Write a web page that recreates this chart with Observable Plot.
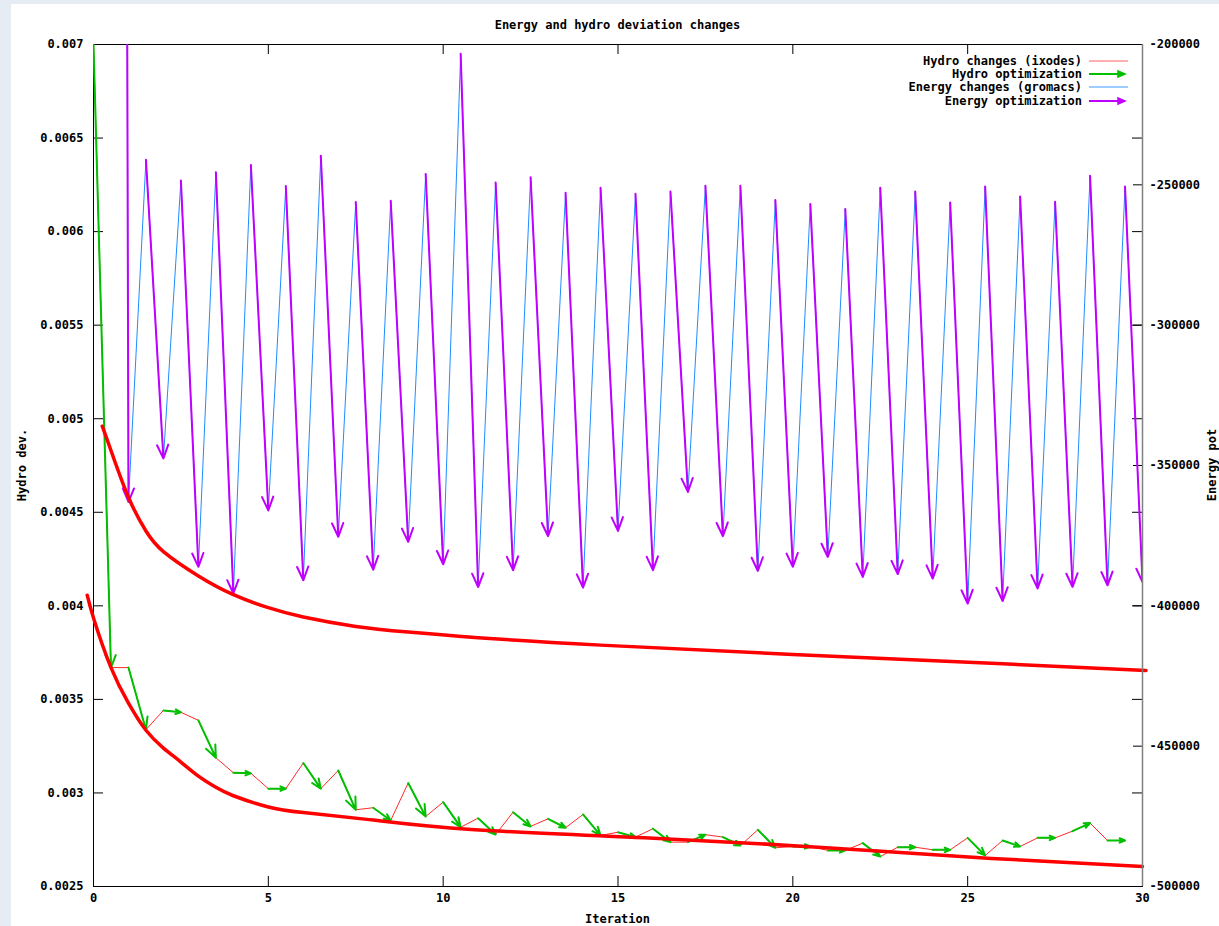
<!DOCTYPE html>
<html>
<head>
<meta charset="utf-8">
<script src="https://cdn.jsdelivr.net/npm/d3@7"></script>
<script src="https://cdn.jsdelivr.net/npm/@observablehq/plot@0.6"></script>
<style>
  html, body { margin: 0; padding: 0; background: #e5ecf4; width: 1219px; height: 926px; overflow: hidden; }
  #panel { position: absolute; left: 11px; top: 4px; width: 1208px; height: 922px; background: #ffffff;
           font-family: "DejaVu Sans Mono", monospace; font-weight: bold; font-size: 12px; color: #000; }
  .layer { position: absolute; left: 0; top: 0; }
  .txt { position: absolute; line-height: 14px; white-space: pre; }
  .rot { position: absolute; white-space: pre; line-height: 14px; transform: translate(-50%, -50%) rotate(-90deg); }
  .legrow { position: absolute; right: 137px; line-height: 14px; white-space: pre; text-align: right; }
  .legsample { position: absolute; left: 1078px; }
</style>
</head>
<body>
<div id="panel">
  <div class="txt" style="left:82px;width:1049px;top:14px;text-align:center;">Energy and hydro deviation changes</div>
  <div class="txt" style="left:82px;width:1049px;top:908px;text-align:center;">Iteration</div>
  <div class="rot" style="left:11px;top:461px;">Hydro dev.</div>
  <div class="rot" style="left:1201px;top:461px;">Energy pot</div>
  <div id="layers"></div>
  <div id="legend"></div>
</div>
<script>
// ---------------- data ----------------
const xTicks = [0, 5, 10, 15, 20, 25, 30];
const xTickLabels = ["0", "5", "10", "15", "20", "25", "30"];

const hydroTicks = [0.007, 0.0065, 0.006, 0.0055, 0.005, 0.0045, 0.004, 0.0035, 0.003, 0.0025];
const hydroTickLabels = ["0.007", "0.0065", "0.006", "0.0055", "0.005", "0.0045", "0.004", "0.0035", "0.003", "0.0025"];

const energyTicks = [-200000, -250000, -300000, -350000, -400000, -450000, -500000];
const energyTickLabels = ["-200000", "-250000", "-300000", "-350000", "-400000", "-450000", "-500000"];

// Hydro deviation, sampled every half iteration (hydro optimization: i -> i+0.5)
const hydroSteps = [0, 0.5, 1, 1.5, 2, 2.5, 3, 3.5, 4, 4.5, 5, 5.5, 6, 6.5, 7, 7.5, 8, 8.5, 9, 9.5,
  10, 10.5, 11, 11.5, 12, 12.5, 13, 13.5, 14, 14.5, 15, 15.5, 16, 16.5, 17, 17.5, 18, 18.5, 19, 19.5,
  20, 20.5, 21, 21.5, 22, 22.5, 23, 23.5, 24, 24.5, 25, 25.5, 26, 26.5, 27, 27.5, 28, 28.5, 29, 29.5];
const hydroDev = [0.00700, 0.00367, 0.00367, 0.003338, 0.003441, 0.003431, 0.003388, 0.003188, 0.003108, 0.003105,
  0.003023, 0.003023, 0.003160, 0.003023, 0.003120, 0.002910, 0.002921, 0.002853, 0.003053, 0.002874,
  0.002951, 0.002817, 0.002865, 0.002778, 0.002897, 0.002821, 0.002862, 0.002814, 0.002885, 0.002773,
  0.002790, 0.002764, 0.002809, 0.002737, 0.002737, 0.002777, 0.002764, 0.002719, 0.002803, 0.002707,
  0.002714, 0.002714, 0.002693, 0.002693, 0.002732, 0.002660, 0.002710, 0.002710, 0.002696, 0.002696,
  0.002760, 0.002666, 0.002746, 0.002714, 0.002760, 0.002760, 0.002796, 0.002839, 0.002746, 0.002746];

// Potential energy, sampled every half iteration (energy optimization: i+0.5 -> i+1)
const energySteps = [0.5, 1, 1.5, 2, 2.5, 3, 3.5, 4, 4.5, 5, 5.5, 6, 6.5, 7, 7.5, 8, 8.5, 9, 9.5, 10,
  10.5, 11, 11.5, 12, 12.5, 13, 13.5, 14, 14.5, 15, 15.5, 16, 16.5, 17, 17.5, 18, 18.5, 19, 19.5, 20,
  20.5, 21, 21.5, 22, 22.5, 23, 23.5, 24, 24.5, 25, 25.5, 26, 26.5, 27, 27.5, 28, 28.5, 29, 29.5, 30];
const energyPot = [2000000, -363000, -241100, -347500, -248500, -386100, -245500, -395600, -242900, -366000,
  -250400, -390900, -239600, -375400, -256100, -387100, -255700, -377200, -246100, -385200,
  -203300, -393300, -249200, -387300, -247300, -375200, -252800, -393500, -251000, -373300,
  -253200, -387300, -252400, -359400, -250300, -375200, -250300, -387600, -255400, -386100,
  -256800, -382600, -258600, -389700, -251000, -388700, -252400, -390300, -256300, -399200,
  -250600, -398300, -254200, -393800, -256000, -393300, -246800, -392700, -250600, -391500];

// Thick red trend curves (hydro units)
const upperTrendX = [0.25, 0.5, 1.0, 1.5, 2.0, 3.0, 4.0, 5.0, 6.0, 7.5, 9.0, 11.0, 14.5, 20.0, 26.0, 30.1];
const upperTrendY = [0.00496, 0.00483, 0.00458, 0.00440, 0.00429, 0.00416, 0.00406, 0.00399, 0.00394, 0.00389, 0.00386, 0.00383, 0.00379, 0.00374, 0.00369, 0.003655];
const lowerTrendX = [-0.18, 0.02, 0.5, 1.0, 1.5, 2.0, 2.5, 3.0, 3.5, 4.0, 5.0, 6.0, 8.0, 10.8, 15.75, 20.72, 25.68, 30.0];
const lowerTrendY = [0.004057, 0.003923, 0.003670, 0.003480, 0.003335, 0.003240, 0.003165, 0.003090, 0.003030, 0.002985, 0.002925, 0.002895, 0.002855, 0.002805, 0.002760, 0.002710, 0.002650, 0.002607];

// ---------------- styling ----------------
const RED = "#ff0000", GREEN = "#00c000", BLUE = "#1e8cff", PURPLE = "#c000ff";
const W = 1208, H = 922, mL = 82, mR = 77, mT = 40, mB = 40;
const plotW = W - mL - mR, plotH = H - mT - mB;
const common = {
  width: W, height: H, marginLeft: mL, marginRight: mR, marginTop: mT, marginBottom: mB,
  style: { background: "transparent", fontFamily: "DejaVu Sans Mono, monospace", fontSize: "12px", fontWeight: "bold", color: "#000", overflow: "visible" }
};

const hydroRows = hydroSteps.map((t, i) => ({ t, v: hydroDev[i] }));
const hydroArrows = [];
for (let i = 0; i + 1 < hydroSteps.length; i += 2)
  hydroArrows.push({ x1: hydroSteps[i], y1: hydroDev[i], x2: hydroSteps[i + 1], y2: hydroDev[i + 1] });

const energyRows = energySteps.map((t, i) => ({ t, e: energyPot[i] }));
const energyArrows = [];
for (let i = 0; i + 1 < energySteps.length; i += 2)
  energyArrows.push({ x1: energySteps[i], y1: energyPot[i], x2: energySteps[i + 1], y2: energyPot[i + 1] });

const upperRows = upperTrendX.map((t, i) => ({ t, v: upperTrendY[i] }));
const lowerRows = lowerTrendX.map((t, i) => ({ t, v: lowerTrendY[i] }));

// Layer 1: hydro (left axis, x axis, frame)
const layer1 = Plot.plot({
  ...common,
  x: { domain: [0, 30], label: null },
  y: { domain: [0.0025, 0.007], label: null },
  marks: [
    Plot.frame({ stroke: "#000" }),
    Plot.axisY({ anchor: "left", ticks: hydroTicks, tickSize: 0, tickPadding: 10, label: null,
      tickFormat: d => hydroTickLabels[hydroTicks.indexOf(d)] }),
    Plot.axisX({ anchor: "bottom", ticks: xTicks, tickSize: 0, tickPadding: 7, label: null,
      tickFormat: d => xTickLabels[xTicks.indexOf(d)] }),
    Plot.tickY(hydroTicks, { y: d => d, insetRight: plotW - 10, stroke: "#000" }),
    Plot.tickY(hydroTicks, { y: d => d, insetLeft: plotW - 10, stroke: "#000" }),
    Plot.tickX(xTicks, { x: d => d, insetTop: plotH - 10, stroke: "#000" }),
    Plot.tickX(xTicks, { x: d => d, insetBottom: plotH - 10, stroke: "#000" }),
    Plot.line(hydroRows, { x: "t", y: "v", stroke: "#ff2a2a", strokeWidth: 1, clip: true }),
    Plot.arrow(hydroArrows, { x1: "x1", y1: "y1", x2: "x2", y2: "y2", stroke: GREEN, strokeWidth: 2,
      headLength: 10, headAngle: 45, clip: true })
  ]
});

// Layer 2: energy (right axis)
const layer2 = Plot.plot({
  ...common,
  x: { domain: [0, 30], axis: null },
  y: { domain: [-500000, -200000], label: null },
  marks: [
    Plot.axisY({ anchor: "right", ticks: energyTicks, tickSize: 0, tickPadding: 7, label: null,
      tickFormat: d => energyTickLabels[energyTicks.indexOf(d)] }),
    Plot.tickY(energyTicks, { y: d => d, insetLeft: plotW - 9, stroke: "#000" }),
    Plot.line(energyRows, { x: "t", y: "e", stroke: BLUE, strokeWidth: 1, clip: true }),
    Plot.arrow(energyArrows, { x1: "x1", y1: "y1", x2: "x2", y2: "y2", stroke: PURPLE, strokeWidth: 2,
      headLength: 11, headAngle: 45, clip: true })
  ]
});

// Layer 3: trend curves + right border
const layer3 = Plot.plot({
  ...common,
  x: { domain: [0, 30], axis: null },
  y: { domain: [0.0025, 0.007], axis: null },
  marks: [
    Plot.line(upperRows, { x: "t", y: "v", stroke: RED, strokeWidth: 3.5, curve: "natural" }),
    Plot.line(lowerRows, { x: "t", y: "v", stroke: RED, strokeWidth: 3.5, curve: "natural" }),
    Plot.ruleX([30], { stroke: "#808080", strokeWidth: 1.5 })
  ]
});

const layers = document.getElementById("layers");
for (const l of [layer1, layer2, layer3]) { l.classList.add("layer"); layers.appendChild(l); }

// Legend
const legendItems = [
  { label: "Hydro changes (ixodes)", color: "#ff6060", width: 1, arrow: false, cy: 56.7 },
  { label: "Hydro optimization", color: GREEN, width: 2, arrow: true, cy: 70 },
  { label: "Energy changes (gromacs)", color: "#3a9cff", width: 1, arrow: false, cy: 83.3 },
  { label: "Energy optimization", color: PURPLE, width: 2, arrow: true, cy: 96.7 }
];
const legend = document.getElementById("legend");
for (const it of legendItems) {
  const row = document.createElement("div");
  row.className = "legrow";
  row.style.top = (it.cy - 7) + "px";
  row.textContent = it.label;
  legend.appendChild(row);
  const ns = "http://www.w3.org/2000/svg";
  const s = document.createElementNS(ns, "svg");
  s.setAttribute("class", "legsample");
  s.setAttribute("width", 42); s.setAttribute("height", 10);
  s.style.top = (it.cy - 5) + "px";
  const ln = document.createElementNS(ns, "line");
  ln.setAttribute("x1", 0); ln.setAttribute("x2", it.arrow ? 36 : 39);
  ln.setAttribute("y1", 5); ln.setAttribute("y2", 5);
  ln.setAttribute("stroke", it.color); ln.setAttribute("stroke-width", it.width);
  s.appendChild(ln);
  if (it.arrow) {
    const p = document.createElementNS(ns, "path");
    p.setAttribute("d", "M29,2 L36,5 L29,8 Z");
    p.setAttribute("fill", it.color); p.setAttribute("stroke", it.color); p.setAttribute("stroke-width", 1.5);
    s.appendChild(p);
  }
  legend.appendChild(s);
}
</script>
</body>
</html>
